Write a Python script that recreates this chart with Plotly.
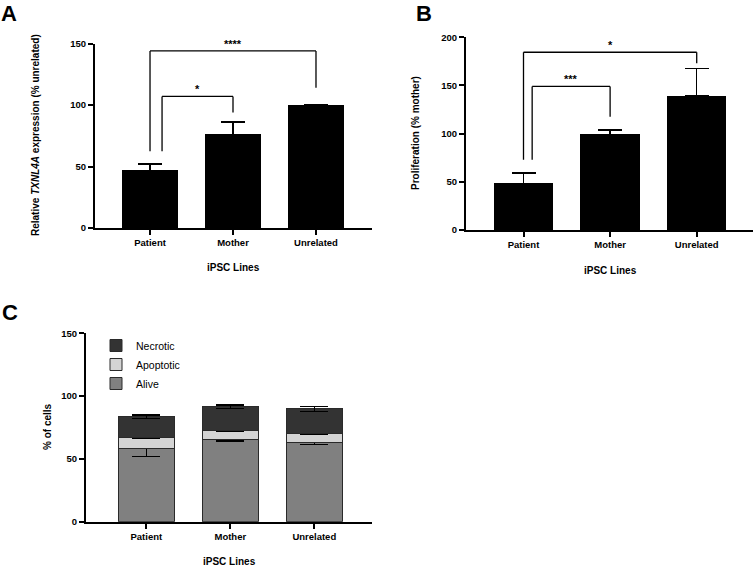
import plotly.graph_objects as go

# ---------------- data ----------------
categories = ["Patient", "Mother", "Unrelated"]

# Panel A: relative TXNL4A expression (% unrelated)
a_values = [46.6, 76.2, 100.0]
a_errors = [5.5, 10.0, None]

# Panel B: proliferation (% mother)
b_values = [47.8, 99.3, 139.0]
b_errors = [11.5, 4.5, 28.5]

# Panel C: % of cells (stacked)
c_alive = [58.5, 65.6, 62.9]
c_alive_err = [6.7, 1.3, 1.5]
c_apoptotic = [8.5, 7.4, 7.5]
c_apoptotic_err = [0.6, 1.0, 1.0]
c_necrotic = [16.6, 18.6, 19.4]
c_necrotic_err = [1.3, 1.5, 2.0]

# significance brackets: (left idx, right idx, bracket height, left foot, right foot, label)
a_brackets = [(0, 2, 144, 62.5, 114, "****"), (0.145, 1, 107, 62.5, 94, "*")]
b_brackets = [(0, 2, 184.5, 73, 173, "*"), (0.1, 1, 149, 73, 117.6, "***")]

FONT = "Arial, Liberation Sans, sans-serif"

fig = go.Figure()

# Panel A
fig.add_trace(go.Bar(
    x=categories, y=a_values, xaxis="x", yaxis="y", width=0.67,
    marker=dict(color="black", line=dict(color="black", width=1)),
    error_y=dict(type="data", array=a_errors, arrayminus=[0, 0, None], symmetric=False,
                 color="black", thickness=1.5, width=12),
    showlegend=False))

# Panel B
fig.add_trace(go.Bar(
    x=categories, y=b_values, xaxis="x2", yaxis="y2", width=0.675,
    marker=dict(color="black", line=dict(color="black", width=1)),
    error_y=dict(type="data", array=b_errors, arrayminus=[0] * 3, symmetric=False,
                 color="black", thickness=1.5, width=12),
    showlegend=False))

# Panel C
for name, vals, errs, col in [("Alive", c_alive, c_alive_err, "#808080"),
                              ("Apoptotic", c_apoptotic, c_apoptotic_err, "#d4d4d4"),
                              ("Necrotic", c_necrotic, c_necrotic_err, "#333333")]:
    fig.add_trace(go.Bar(
        x=categories, y=vals, name=name, xaxis="x3", yaxis="y3", width=0.67,
        marker=dict(color=col, line=dict(color="#2a2a2a", width=1)),
        error_y=dict(type="data", array=errs, color="black", thickness=1.5, width=14),
        showlegend=True))

shapes = []
annotations = []


def add_brackets(brackets, xref, yref):
    for l, r, h, lf, rf, lab in brackets:
        pts = [(l, lf), (l, h), (r, h), (r, rf)]
        for (x0, y0), (x1, y1) in zip(pts[:-1], pts[1:]):
            shapes.append(dict(type="line", xref=xref, yref=yref, x0=x0, y0=y0, x1=x1, y1=y1,
                               line=dict(color="black", width=1.3)))
        annotations.append(dict(x=(l + r) / 2, y=h, xref=xref, yref=yref, text="<b>%s</b>" % lab,
                                showarrow=False, xanchor="center", yanchor="bottom", yshift=-1,
                                font=dict(family=FONT, size=11, color="black")))


add_brackets(a_brackets, "x", "y")
add_brackets(b_brackets, "x2", "y2")

# Panel letters
for txt, x, y in [("A", 9, 14), ("B", 424, 13), ("C", 10, 312)]:
    annotations.append(dict(x=x / 755, y=1 - y / 566, xref="paper", yref="paper", text="<b>%s</b>" % txt,
                            xanchor="center", yanchor="middle",
                            showarrow=False, font=dict(family=FONT, size=22, color="black")))

# Axis titles
title_font = dict(family=FONT, size=10, color="black", weight="bold")
for txt, x, y in [("iPSC Lines", 233, 267), ("iPSC Lines", 610, 270), ("iPSC Lines", 229, 561)]:
    annotations.append(dict(x=x / 755, y=1 - y / 566, xref="paper", yref="paper",
                            xanchor="center", yanchor="middle",
                            text=txt, showarrow=False, font=title_font))
for txt, x, y in [("Relative <i>TXNL4A</i> expression (% unrelated)", 35, 135),
                  ("Proliferation (% mother)", 415, 133),
                  ("% of cells", 47, 427)]:
    annotations.append(dict(x=x / 755, y=1 - y / 566, xref="paper", yref="paper",
                            xanchor="center", yanchor="middle",
                            text=txt, showarrow=False, textangle=-90, font=title_font))

axis_common = dict(showline=True, linecolor="black", linewidth=2, ticks="outside", ticklen=5,
                   tickwidth=1.5, tickcolor="black", showgrid=False, zeroline=False, automargin=False,
                   tickfont=dict(family=FONT, size=9.5, color="black", weight="bold"))

fig.update_layout(
    width=755, height=566, margin=dict(l=0, r=0, t=0, b=0, autoexpand=False),
    paper_bgcolor="white", plot_bgcolor="white", barmode="stack",
    font=dict(family=FONT, color="black"),
    xaxis=dict(domain=[95 / 755, 372 / 755], range=[-0.663, 2.675], anchor="y", **axis_common),
    yaxis=dict(domain=[1 - 228 / 566, 1 - 43.5 / 566], range=[0, 150], tickvals=[0, 50, 100, 150],
               anchor="x", **axis_common),
    xaxis2=dict(domain=[466 / 755, 753 / 755], range=[-0.664, 2.65], anchor="y2", **axis_common),
    yaxis2=dict(domain=[1 - 230 / 566, 1 - 37.3 / 566], range=[0, 200], tickvals=[0, 50, 100, 150, 200],
                anchor="x2", **axis_common),
    xaxis3=dict(domain=[86 / 755, 372 / 755], range=[-0.718, 2.687], anchor="y3", **axis_common),
    yaxis3=dict(domain=[1 - 521.7 / 566, 1 - 333.3 / 566], range=[0, 150], tickvals=[0, 50, 100, 150],
                anchor="x3", **axis_common),
    legend=dict(x=96 / 755, y=1 - 331 / 566, xanchor="left", yanchor="top", traceorder="reversed",
                bgcolor="rgba(0,0,0,0)", font=dict(family=FONT, size=10.5, color="black"),
                itemwidth=30, tracegroupgap=0),
    shapes=shapes, annotations=annotations,
)

fig.write_html("out.html", config={"displayModeBar": False},
               post_script="document.body.style.margin='0px';")
